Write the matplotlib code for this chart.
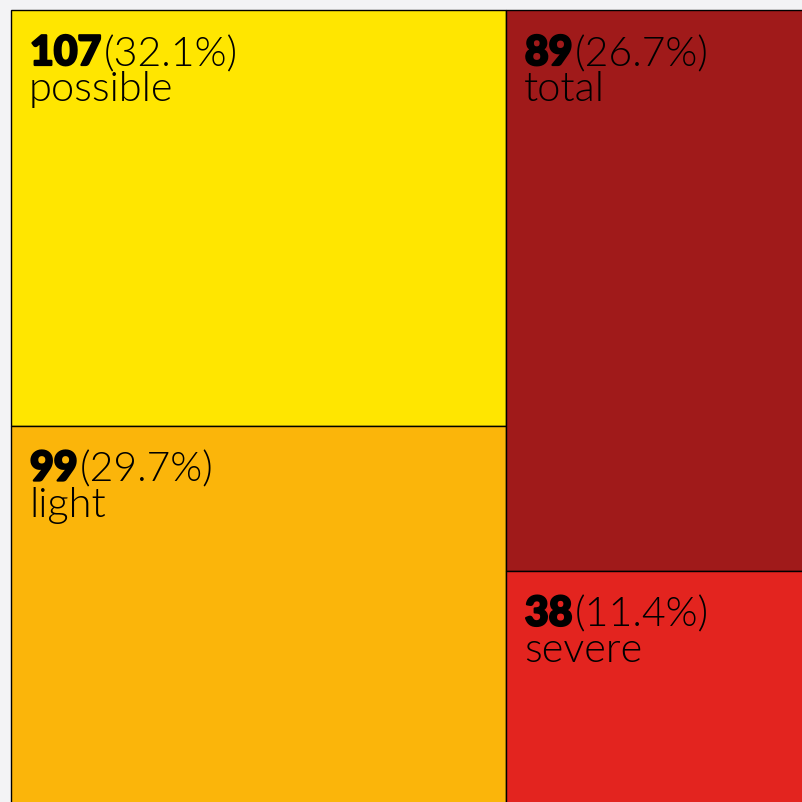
import matplotlib
matplotlib.use("Agg")
import matplotlib.pyplot as plt
import matplotlib.patheffects as pe
from matplotlib.patches import Rectangle

labels = ["possible", "light", "total", "severe"]
values = [107, 99, 89, 38]
colors = ["#FFE600", "#FBB50A", "#A01A1A", "#E3241F"]
columns = [[0, 1], [2, 3]]  # treemap columns, top to bottom

W, H = 800, 800  # treemap size in px (runs past the canvas edge)
total = sum(values)

fig = plt.figure(figsize=(8.03, 8.03), dpi=100, facecolor="#f3f3f5")
ax = fig.add_axes([11 / 803, -8 / 803, W / 803, H / 803])
ax.set_xlim(0, W)
ax.set_ylim(H, 0)
ax.axis("off")

fam = ["Lato", "DejaVu Sans"]
cells = []
x0 = 0
for col in columns:
    col_sum = sum(values[i] for i in col)
    cw = W * col_sum / total
    y0 = 0
    for i in col:
        ch = H * values[i] / col_sum
        ax.add_patch(Rectangle((x0, y0), cw, ch, facecolor=colors[i],
                               edgecolor="black", linewidth=1, clip_on=False))
        cells.append((i, x0, y0))
        y0 += ch
    x0 += cw

fig.canvas.draw()
r = fig.canvas.get_renderer()
inv = ax.transData.inverted()
heavy = [pe.withStroke(linewidth=1.6, foreground="black")]
for i, x, y in cells:
    pct = 100 * values[i] / total
    t = ax.text(x + 19, y + 55, str(values[i]), fontsize=29.5, fontweight=900,
                family=fam, va="baseline", ha="left", clip_on=False,
                path_effects=heavy)
    bb = t.get_window_extent(renderer=r)
    xe = inv.transform((bb.x1, bb.y0))[0]
    ax.text(xe + 2, y + 55, f"({pct:.1f}%)", fontsize=29.5, fontweight=300,
            family=fam, va="baseline", ha="left", clip_on=False)
    ax.text(x + 18, y + 90, labels[i], fontsize=30, fontweight=300,
            family=fam, va="baseline", ha="left", clip_on=False)

plt.savefig("out.png", dpi=100, facecolor=fig.get_facecolor())
